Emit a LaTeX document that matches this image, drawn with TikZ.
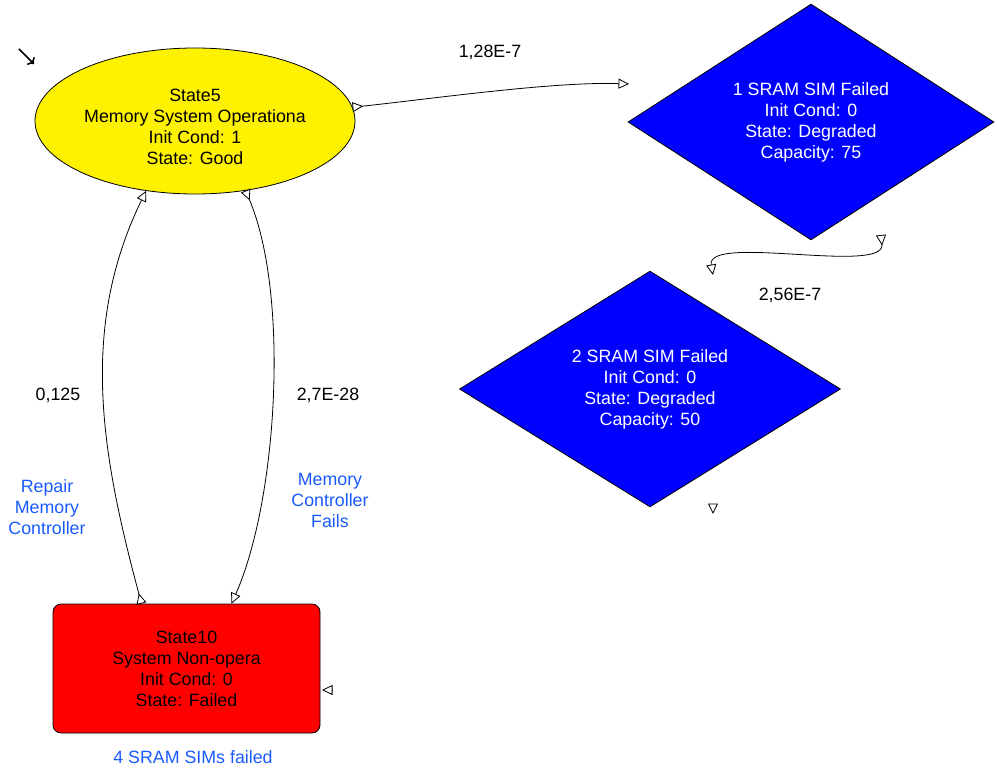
\documentclass[tikz,border=0pt]{standalone}
\usepackage{fontspec}
\setmainfont{Liberation Sans}
\usepackage{tikz}
\usetikzlibrary{shapes.geometric,arrows.meta}
\definecolor{lblue}{RGB}{25,90,255}
\newcommand{\fs}{\fontsize{17.8}{21}\selectfont}

\begin{document}
\begin{tikzpicture}[x=1pt,y=-1pt,
		every node/.style={font=\fs,align=center,inner sep=0pt},
		tri/.style={line width=0.8pt,arrows={Triangle[reversed,fill=white,length=10.5pt,width=10pt]-Triangle[fill=white,length=10.5pt,width=10pt]}},
		tip/.style={line width=0.8pt,arrows={-Triangle[fill=white,length=10.5pt,width=10pt]}},
		state/.style={draw,line width=0.8pt}]
		\useasboundingbox (0,0) rectangle (997,768);
		\begin{scope}
			\node[state,ellipse,fill=yellow,minimum width=320pt,minimum height=146pt,text height=87pt] (S5) at (195,121)
				{State5\\Memory System Operationa\\Init Cond: 1\\State: Good};
			\node[state,diamond,fill=blue,text=white,minimum width=366pt,minimum height=229pt] (F1) at (811,122)
				{1 SRAM SIM Failed\\Init Cond: 0\\State: Degraded\\Capacity: 75};
			\node[state,diamond,fill=blue,text=white,minimum width=381pt,minimum height=226pt] (F2) at (650,389)
				{2 SRAM SIM Failed\\Init Cond: 0\\State: Degraded\\Capacity: 50};
			\node[state,rectangle,rounded corners=8pt,fill=red,minimum width=267pt,minimum height=129pt] (S10) at (186.5,668.5)
				{State10\\System Non-opera\\Init Cond: 0\\State: Failed};
		
			\coordinate (e1) at (629,84);
			\coordinate (c1) at (881,235);
			\coordinate (c2) at (713,275);
			\coordinate (l1) at (332.5,690);
			\coordinate (l2) at (713,503.5);
			\coordinate (i0) at (19,49);
			\coordinate (i1) at (34,64);
		
			\draw[tri] (S5.5) to[out=6,in=178,looseness=0.7] (e1);
			\draw[tri] (c1) to[out=-84,in=100,out distance=40pt,in distance=42pt] (c2);
			\draw[tri] ([xshift=-45pt]S10.north) to[out=105,in=-116,looseness=0.95] (S5.-125);
			\draw[tri] (S5.-54) to[out=-67,in=66,looseness=0.7] ([xshift=45pt]S10.north);
			\draw[tip] (l1) -- ++(-10.5,0);
			\draw[tip] (l2) -- ++(0,10.5);
			\draw[line width=1.6pt,->] (i0) -- (i1);
		
			\node (r1) at (490,52) {1,28E-7};
			\node (r2) at (790,295) {2,56E-7};
			\node (r3) at (58,395) {0,125};
			\node (r4) at (328,395) {2,7E-28};
			\node[text=lblue] (rep) at (47,507) {Repair\\Memory\\Controller};
			\node[text=lblue] (mcf) at (330,500) {Memory\\Controller\\Fails};
			\node[text=lblue] (sims) at (193,757) {4 SRAM SIMs failed};
		\end{scope}
\end{tikzpicture}
\end{document}
